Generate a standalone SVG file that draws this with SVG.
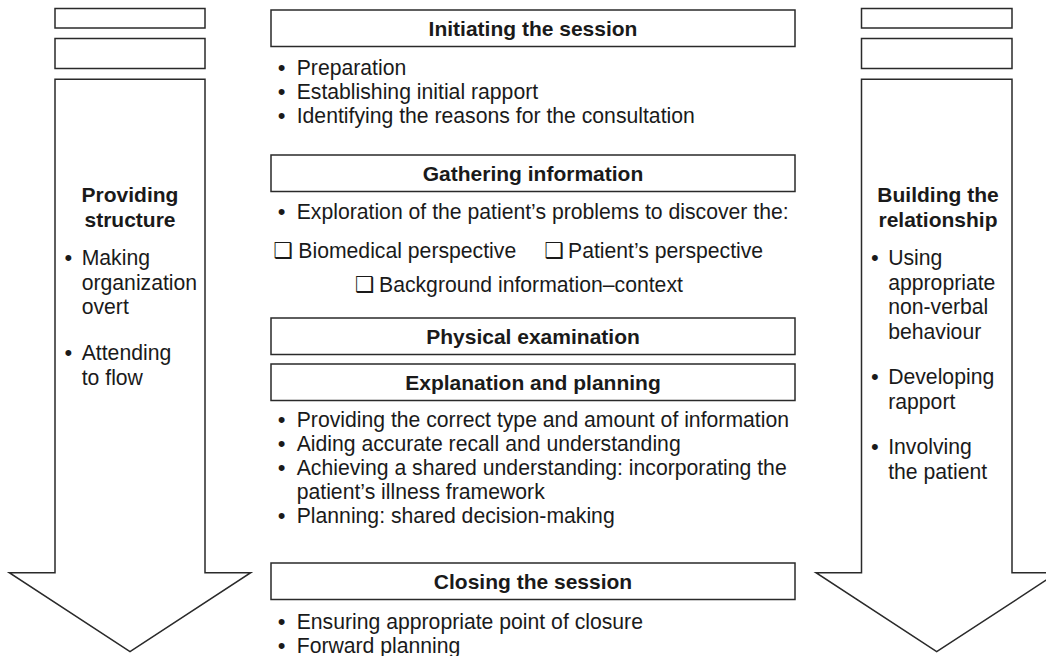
<svg xmlns="http://www.w3.org/2000/svg" width="1046" height="656" viewBox="0 0 1046 656">
<style>
.shape{fill:#fff;stroke:#2a2a2a;stroke-width:1.5}
.t{font-family:"Liberation Sans",Arial,sans-serif;font-size:21.2px;fill:#1a1a1a}
.b{font-family:"Liberation Sans",Arial,sans-serif;font-size:21px;font-weight:bold;fill:#1a1a1a;text-anchor:middle}
.bu{font-family:"Liberation Sans",Arial,sans-serif;font-size:22px;fill:#1a1a1a;text-anchor:middle}
.cb{font-family:"DejaVu Sans",sans-serif;font-size:22px;fill:#1a1a1a}
</style>
<rect width="1046" height="656" fill="#fff"/>
<g id="left-arrow">
<rect class="shape" x="55" y="8.5" width="150" height="19.5"/>
<rect class="shape" x="55" y="38.5" width="150" height="30"/>
<polygon class="shape" points="55,79.3 205,79.3 205,572.7 250.7,572.7 130,651.7 9.3,572.7 55,572.7"/>
<text class="b" x="130" y="202">Providing</text>
<text class="b" x="130" y="227">structure</text>
<text class="bu" x="68.3" y="265">•</text>
<text class="t" x="81.7" y="265">Making</text>
<text class="t" x="81.7" y="289.5">organization</text>
<text class="t" x="81.7" y="314">overt</text>
<text class="bu" x="68.3" y="360">•</text>
<text class="t" x="81.7" y="360">Attending</text>
<text class="t" x="81.7" y="384.5">to flow</text>
</g>
<g id="right-arrow">
<rect class="shape" x="861.5" y="8.5" width="150.5" height="19.5"/>
<rect class="shape" x="861.5" y="38.5" width="150.5" height="30"/>
<polygon class="shape" points="861.5,79.3 1012,79.3 1012,572.7 1057.5,572.7 936.7,651.7 816,572.7 861.5,572.7"/>
<text class="b" x="938" y="202">Building the</text>
<text class="b" x="938" y="227">relationship</text>
<text class="bu" x="874.8" y="265">•</text>
<text class="t" x="888.2" y="265">Using</text>
<text class="t" x="888.2" y="289.5">appropriate</text>
<text class="t" x="888.2" y="314">non-verbal</text>
<text class="t" x="888.2" y="338.5">behaviour</text>
<text class="bu" x="874.8" y="384">•</text>
<text class="t" x="888.2" y="384">Developing</text>
<text class="t" x="888.2" y="408.5">rapport</text>
<text class="bu" x="874.8" y="454">•</text>
<text class="t" x="888.2" y="454">Involving</text>
<text class="t" x="888.2" y="478.5">the patient</text>
</g>
<g id="initiating">
<rect class="shape" x="271" y="10" width="524" height="36.5"/>
<text class="b" x="533" y="36">Initiating the session</text>
<text class="bu" x="281.7" y="75">•</text>
<text class="t" x="296.7" y="75">Preparation</text>
<text class="bu" x="281.7" y="99">•</text>
<text class="t" x="296.7" y="99">Establishing initial rapport</text>
<text class="bu" x="281.7" y="123">•</text>
<text class="t" x="296.7" y="123">Identifying the reasons for the consultation</text>
</g>
<g id="gathering">
<rect class="shape" x="271" y="155" width="524" height="36.5"/>
<text class="b" x="533" y="181">Gathering information</text>
<text class="bu" x="281.7" y="218.5">•</text>
<text class="t" x="296.7" y="218.5">Exploration of the patient’s problems to discover the:</text>
<text class="cb" x="273.5" y="257.5">❑</text>
<text class="t" x="298.3" y="257.5">Biomedical perspective</text>
<text class="cb" x="544.5" y="257.5">❑</text>
<text class="t" x="568" y="257.5">Patient’s perspective</text>
<text class="cb" x="355" y="292">❑</text>
<text class="t" x="379" y="292">Background information–context</text>
</g>
<g id="physical">
<rect class="shape" x="271" y="318" width="524" height="36.5"/>
<text class="b" x="533" y="344">Physical examination</text>
</g>
<g id="explanation">
<rect class="shape" x="271" y="364" width="524" height="36.5"/>
<text class="b" x="533" y="390">Explanation and planning</text>
<text class="bu" x="281.7" y="427">•</text>
<text class="t" x="296.7" y="427">Providing the correct type and amount of information</text>
<text class="bu" x="281.7" y="451">•</text>
<text class="t" x="296.7" y="451">Aiding accurate recall and understanding</text>
<text class="bu" x="281.7" y="475">•</text>
<text class="t" x="296.7" y="475">Achieving a shared understanding: incorporating the</text>
<text class="t" x="296.7" y="499">patient’s illness framework</text>
<text class="bu" x="281.7" y="523">•</text>
<text class="t" x="296.7" y="523">Planning: shared decision-making</text>
</g>
<g id="closing">
<rect class="shape" x="271" y="563" width="524" height="36.5"/>
<text class="b" x="533" y="589">Closing the session</text>
<text class="bu" x="281.7" y="629">•</text>
<text class="t" x="296.7" y="629">Ensuring appropriate point of closure</text>
<text class="bu" x="281.7" y="653">•</text>
<text class="t" x="296.7" y="653">Forward planning</text>
</g>
<g id="connectors"></g>
</svg>
